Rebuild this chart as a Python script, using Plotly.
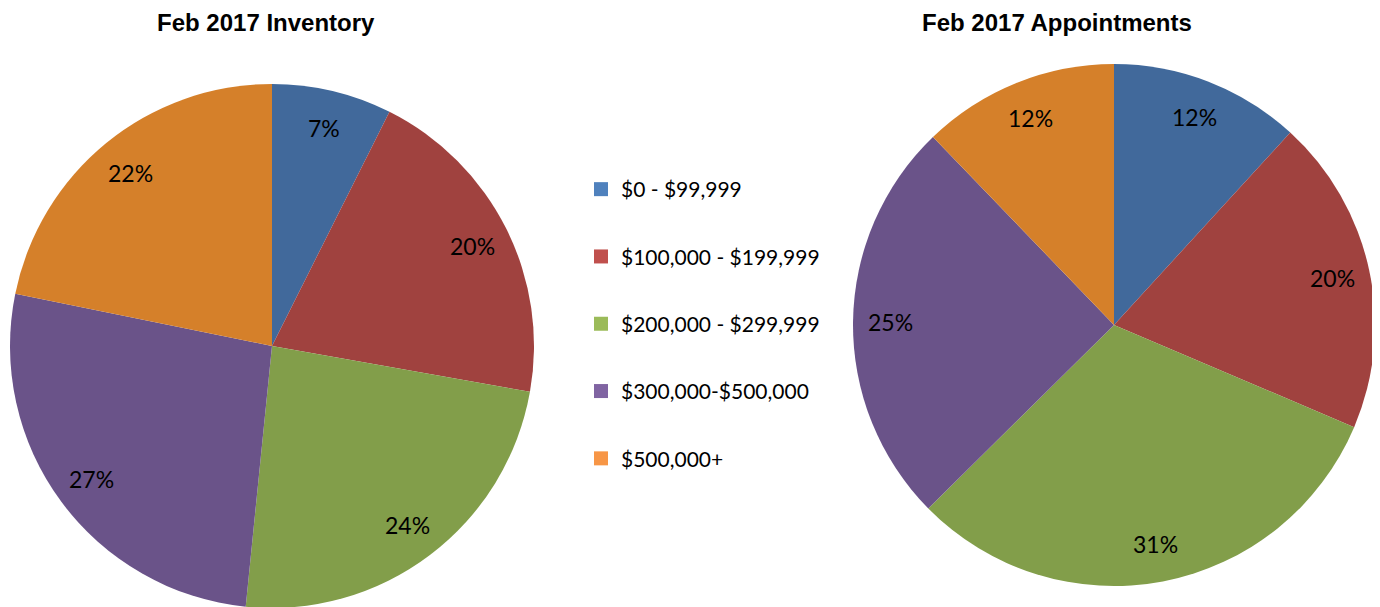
import math
import plotly.graph_objects as go

categories = ["$0 - $99,999", "$100,000 - $199,999", "$200,000 - $299,999",
              "$300,000-$500,000", "$500,000+"]
inventory = [7.4, 20.4, 23.8, 26.6, 21.8]
appointments = [11.8, 19.6, 31.2, 25.2, 12.2]
titles = ["Feb 2017 Inventory", "Feb 2017 Appointments"]

pie_colors = ["#41699B", "#A0423F", "#829E4A", "#6A5389", "#D5802A"]
legend_colors = ["#4F81BD", "#C0504D", "#9BBB59", "#8064A2", "#F79646"]

W, H = 1380, 607
# page body has an 8px margin, so layout positions are shifted by -8px
LABEL_FONT = dict(family="Lato, Open Sans, sans-serif", size=23, color="#000000")
TITLE_FONT = dict(family="Liberation Sans, Arial, sans-serif", size=24, color="#000000")

pies = [
    dict(values=inventory, title=titles[0], cx=264, cy=338, r=262, tx=258),
    dict(values=appointments, title=titles[1], cx=1106, cy=317, r=261, tx=1049),
]

fig = go.Figure()
annotations = []
LABEL_R = 0.855

for p in pies:
    cx, cy, r = p["cx"], p["cy"], p["r"]
    fig.add_trace(go.Pie(
        labels=categories, values=p["values"], sort=False, direction="clockwise",
        rotation=0, marker=dict(colors=pie_colors, line=dict(width=0)),
        textinfo="none", showlegend=False, hoverinfo="label+percent",
        domain=dict(x=[(cx - r) / W, (cx + r) / W],
                    y=[max(0, 1 - (cy + r) / H), 1 - (cy - r) / H]),
    ))
    total = sum(p["values"])
    cum = 0.0
    for v in p["values"]:
        mid = (cum + v / 2) / total * 2 * math.pi
        cum += v
        px = cx + LABEL_R * r * math.sin(mid)
        py = cy - LABEL_R * r * math.cos(mid)
        annotations.append(dict(
            text=f"{int(v / total * 100 + 0.5)}%", x=px / W, y=1 - py / H,
            xref="paper", yref="paper", showarrow=False,
            xanchor="center", yanchor="middle", font=LABEL_FONT))
    annotations.append(dict(
        text=f"<b>{p['title']}</b>", x=p["tx"] / W, y=1.0,
        xref="paper", yref="paper", showarrow=False, borderpad=0,
        xanchor="center", yanchor="top", font=TITLE_FONT))

for i, (cat, col) in enumerate(zip(categories, legend_colors)):
    fig.add_trace(go.Scatter(
        x=[None], y=[None], mode="markers", name=cat,
        marker=dict(symbol="square", size=14, color=col),
        legendgroup=f"g{i}", showlegend=True,
    ))

fig.update_layout(
    width=W, height=H,
    margin=dict(l=0, r=0, t=0, b=0),
    paper_bgcolor="white", plot_bgcolor="white",
    xaxis=dict(visible=False), yaxis=dict(visible=False),
    legend=dict(
        x=573 / W, y=1 - 161 / H, xanchor="left", yanchor="top",
        font=dict(family="Lato, Open Sans, sans-serif", size=21, color="#000000"),
        traceorder="grouped", tracegroupgap=37, itemwidth=30,
        bgcolor="rgba(0,0,0,0)",
    ),
    annotations=annotations,
)

fig.write_html("out.html")
